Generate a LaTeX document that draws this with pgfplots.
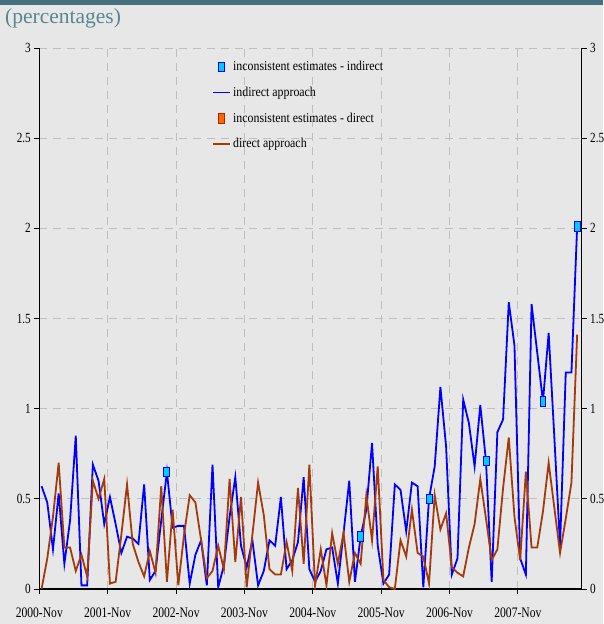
\documentclass[border=0pt]{standalone}
\usepackage{fontspec}
\setmainfont{Liberation Serif}
\newfontfamily\tickfont[FakeStretch=0.8]{Liberation Serif}
\newfontfamily\legfont[FakeStretch=0.88]{Liberation Serif}
\usepackage{pgfplots}
\usepackage{pgfplotstable}
\pgfplotsset{compat=1.18}
\definecolor{bg}{RGB}{231,231,231}
\definecolor{barc}{RGB}{70,112,125}
\definecolor{ttl}{RGB}{88,134,145}
\definecolor{gridc}{RGB}{190,190,190}
\definecolor{brn}{RGB}{163,58,12}
\definecolor{cyanm}{RGB}{0,204,255}
\definecolor{orgm}{RGB}{255,102,0}
\definecolor{orgd}{RGB}{170,40,0}
\pgfplotstableread{
i ind dir
0 0.57 0.00
1 0.48 0.17
2 0.22 0.40
3 0.53 0.70
4 0.14 0.23
5 0.38 0.23
6 0.85 0.10
7 0.02 0.19
8 0.02 0.07
9 0.69 0.60
10 0.60 0.50
11 0.36 0.61
12 0.51 0.03
13 0.36 0.04
14 0.20 0.30
15 0.29 0.58
16 0.28 0.25
17 0.25 0.15
18 0.58 0.07
19 0.05 0.21
20 0.10 0.09
21 0.38 0.57
22 0.65 0.04
23 0.34 0.44
24 0.35 0.02
25 0.35 0.30
26 0.03 0.52
27 0.19 0.48
28 0.27 0.27
29 0.02 0.06
30 0.69 0.10
31 0.01 0.24
32 0.13 0.11
33 0.40 0.61
34 0.62 0.15
35 0.24 0.51
36 0.12 0.01
37 0.27 0.30
38 0.02 0.59
39 0.10 0.41
40 0.27 0.11
41 0.24 0.08
42 0.51 0.08
43 0.11 0.26
44 0.16 0.10
45 0.26 0.56
46 0.62 0.14
47 0.11 0.69
48 0.04 0.02
49 0.10 0.22
50 0.22 0.02
51 0.23 0.31
52 0.03 0.14
53 0.31 0.31
54 0.60 0.04
55 0.04 0.20
56 0.29 0.14
57 0.44 0.52
58 0.81 0.27
59 0.24 0.68
60 0.03 0.05
61 0.08 0.01
62 0.58 0.00
63 0.55 0.27
64 0.32 0.18
65 0.59 0.44
66 0.57 0.20
67 0.01 0.18
68 0.50 0.03
69 0.68 0.52
70 1.12 0.33
71 0.79 0.42
72 0.08 0.12
73 0.17 0.09
74 1.05 0.07
75 0.92 0.23
76 0.68 0.36
77 1.02 0.61
78 0.71 0.39
79 0.04 0.16
80 0.87 0.22
81 0.94 0.56
82 1.59 0.84
83 1.35 0.40
84 0.17 0.16
85 0.08 0.65
86 1.58 0.23
87 1.31 0.23
88 1.04 0.43
89 1.42 0.70
90 0.84 0.45
91 0.24 0.20
92 1.20 0.39
93 1.20 0.59
94 2.01 1.41
}\datatable
\pgfplotstableread{
i v
22 0.65
56 0.29
68 0.50
78 0.71
88 1.04
94 2.01
}\marktable
\begin{document}
\begin{tikzpicture}
\fill[bg] (0pt,0pt) rectangle (603pt,624pt);
\fill[barc] (0pt,619pt) rectangle (603pt,624pt);
\node[anchor=base west, text=ttl, font=\fontsize{21.5}{25}\selectfont, inner sep=0pt] at (5pt,600pt) {(percentages)};
\begin{axis}[
  at={(39.3pt,35pt)}, anchor=south west, scale only axis,
  width=542.4pt, height=541pt,
  xmin=-0.4, xmax=94.8, ymin=0, ymax=3,
  axis x line*=bottom, axis y line*=left,
  xtick={-0.4,11.6,23.6,35.6,47.6,59.6,71.6,83.6},
  xticklabels={2000-Nov,2001-Nov,2002-Nov,2003-Nov,2004-Nov,2005-Nov,2006-Nov,2007-Nov},
  ytick={0,0.5,1,1.5,2,2.5,3},
  grid=major,
  major grid style={gridc, dash pattern=on 8pt off 6pt, line width=0.8pt},
  tick align=outside, major tick length=5pt,
  tick style={black, line width=0.8pt},
  axis line style={black, line width=1.1pt},
  /pgf/number format/assume math mode=true,
  yticklabel style={font=\tickfont\fontsize{14}{16}\selectfont},
  xticklabel style={font=\tickfont\fontsize{14.5}{16}\selectfont, yshift=-10pt},
  legend style={at={(0.313,0.983)}, anchor=north west, draw=none, fill=none,
    font=\legfont\fontsize{13.5}{15}\selectfont, row sep=10.8pt, cells={anchor=west}},
]
\addplot[only marks, mark=square*, mark size=4.8pt, mark options={xscale=0.62, fill=cyanm, draw=blue, line width=0.9pt}] table[x=i,y=v] {\marktable};
\addlegendentry{inconsistent estimates - indirect}
\addplot[blue, line width=1.8pt, no marks] table[x=i,y=ind] {\datatable};
\addlegendentry{indirect approach}
\addlegendimage{only marks, mark=square*, mark size=4.8pt, mark options={xscale=0.62, fill=orgm, draw=orgd, line width=0.9pt}}
\addlegendentry{inconsistent estimates - direct}
\addplot[brn, line width=1.8pt, no marks] table[x=i,y=dir] {\datatable};
\addlegendentry{direct approach}
\addplot[forget plot, only marks, mark=square*, mark size=4.8pt, mark options={xscale=0.62, fill=cyanm, draw=blue, line width=0.9pt}] table[x=i,y=v] {\marktable};
\end{axis}
\begin{axis}[
  at={(39.3pt,35pt)}, anchor=south west, scale only axis,
  width=542.4pt, height=541pt,
  xmin=-0.4, xmax=94.8, ymin=0, ymax=3,
  axis y line*=right, axis x line=none,
  ytick={0,0.5,1,1.5,2,2.5,3},
  tick align=outside, major tick length=5pt,
  tick style={black, line width=0.8pt},
  axis line style={black, line width=1.1pt},
  /pgf/number format/assume math mode=true,
  yticklabel style={font=\tickfont\fontsize{14}{16}\selectfont},
]
\addplot[draw=none, no marks] coordinates {(0,0)};
\end{axis}
\pgfresetboundingbox
\path[use as bounding box] (0pt,0pt) rectangle (603pt,624pt);
\end{tikzpicture}
\end{document}
